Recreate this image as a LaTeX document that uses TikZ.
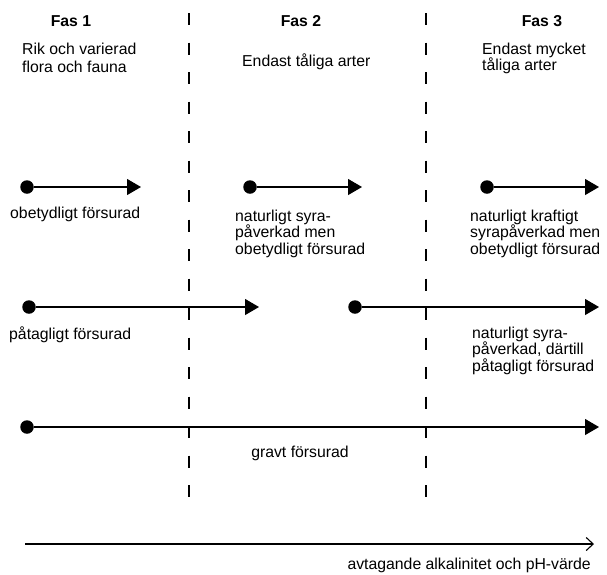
\documentclass[tikz,border=0pt]{standalone}
\usepackage{fontspec}
\setmainfont{Liberation Sans}
\usetikzlibrary{arrows.meta}
\begin{document}
\begin{tikzpicture}[x=1pt,y=-1pt,
  txt/.style={inner sep=0pt, font=\fontsize{15.8}{16.5}\selectfont, align=left},
  hdr/.style={inner sep=0pt, font=\fontsize{15.8}{16.5}\selectfont\bfseries},
  divider/.style={line width=1.2pt, dash pattern=on 12pt off 17.5pt},
  dotstart/.style={circle, fill=black, inner sep=0pt, minimum size=13.5pt},
  arr/.style={line width=1.1pt, -{Triangle[length=14pt,width=16pt]}},
  axis/.style={line width=1.1pt, -{Straight Barb[length=7pt,width=13pt,line width=1.1pt]}}
]
\useasboundingbox[fill=white] (0,0) rectangle (607,574);

% dividers
\coordinate (d1t) at (189,13); \coordinate (d1b) at (189,500);
\coordinate (d2t) at (426,13); \coordinate (d2b) at (426,500);
\draw[divider] (d1t) -- (d1b);
\draw[divider] (d2t) -- (d2b);

% headers
\node[hdr, anchor=base] (f1) at (71,26) {Fas 1};
\node[hdr, anchor=base] (f2) at (301,26) {Fas 2};
\node[hdr, anchor=base] (f3) at (542,26) {Fas 3};

\node[txt, anchor=north west, font=\fontsize{15.8}{18}\selectfont] (t1) at (22,42.5) {Rik och varierad\\flora och fauna};
\node[txt, anchor=base west] (t2) at (242,66) {Endast tåliga arter};
\node[txt, anchor=north west] (t3) at (482,42.5) {Endast mycket\\tåliga arter};

% row 1
\node[dotstart] (a1) at (27,187) {};
\coordinate (a1e) at (141,187);
\draw[arr] (a1) -- (a1e);
\node[dotstart] (b1) at (250,187) {};
\coordinate (b1e) at (362,187);
\draw[arr] (b1) -- (b1e);
\node[dotstart] (c1) at (487,187) {};
\coordinate (c1e) at (599,187);
\draw[arr] (c1) -- (c1e);

\node[txt, anchor=base west] (la1) at (10,218) {obetydligt försurad};
\node[txt, anchor=north west] (lb1) at (235,209.5) {naturligt syra-\\påverkad men\\obetydligt försurad};
\node[txt, anchor=north west] (lc1) at (470,209.5) {naturligt kraftigt\\syrapåverkad men\\obetydligt försurad};

% row 2
\node[dotstart] (a2) at (29,307) {};
\coordinate (a2e) at (259,307);
\draw[arr] (a2) -- (a2e);
\node[dotstart] (c2) at (355,307) {};
\coordinate (c2e) at (599,307);
\draw[arr] (c2) -- (c2e);

\node[txt, anchor=base west] (la2) at (9,339) {påtagligt försurad};
\node[txt, anchor=north west] (lc2) at (472,326.5) {naturligt syra-\\påverkad, därtill\\påtagligt försurad};

% row 3
\node[dotstart] (a3) at (27,427) {};
\coordinate (a3e) at (599,427);
\draw[arr] (a3) -- (a3e);
\node[txt, anchor=base] (la3) at (300,457) {gravt försurad};

% axis
\coordinate (x0) at (25,544);
\coordinate (x1) at (594,544);
\draw[axis] (x0) -- (x1);
\node[txt, anchor=base east] (xl) at (591,569) {avtagande alkalinitet och pH-värde};
\end{tikzpicture}
\end{document}
